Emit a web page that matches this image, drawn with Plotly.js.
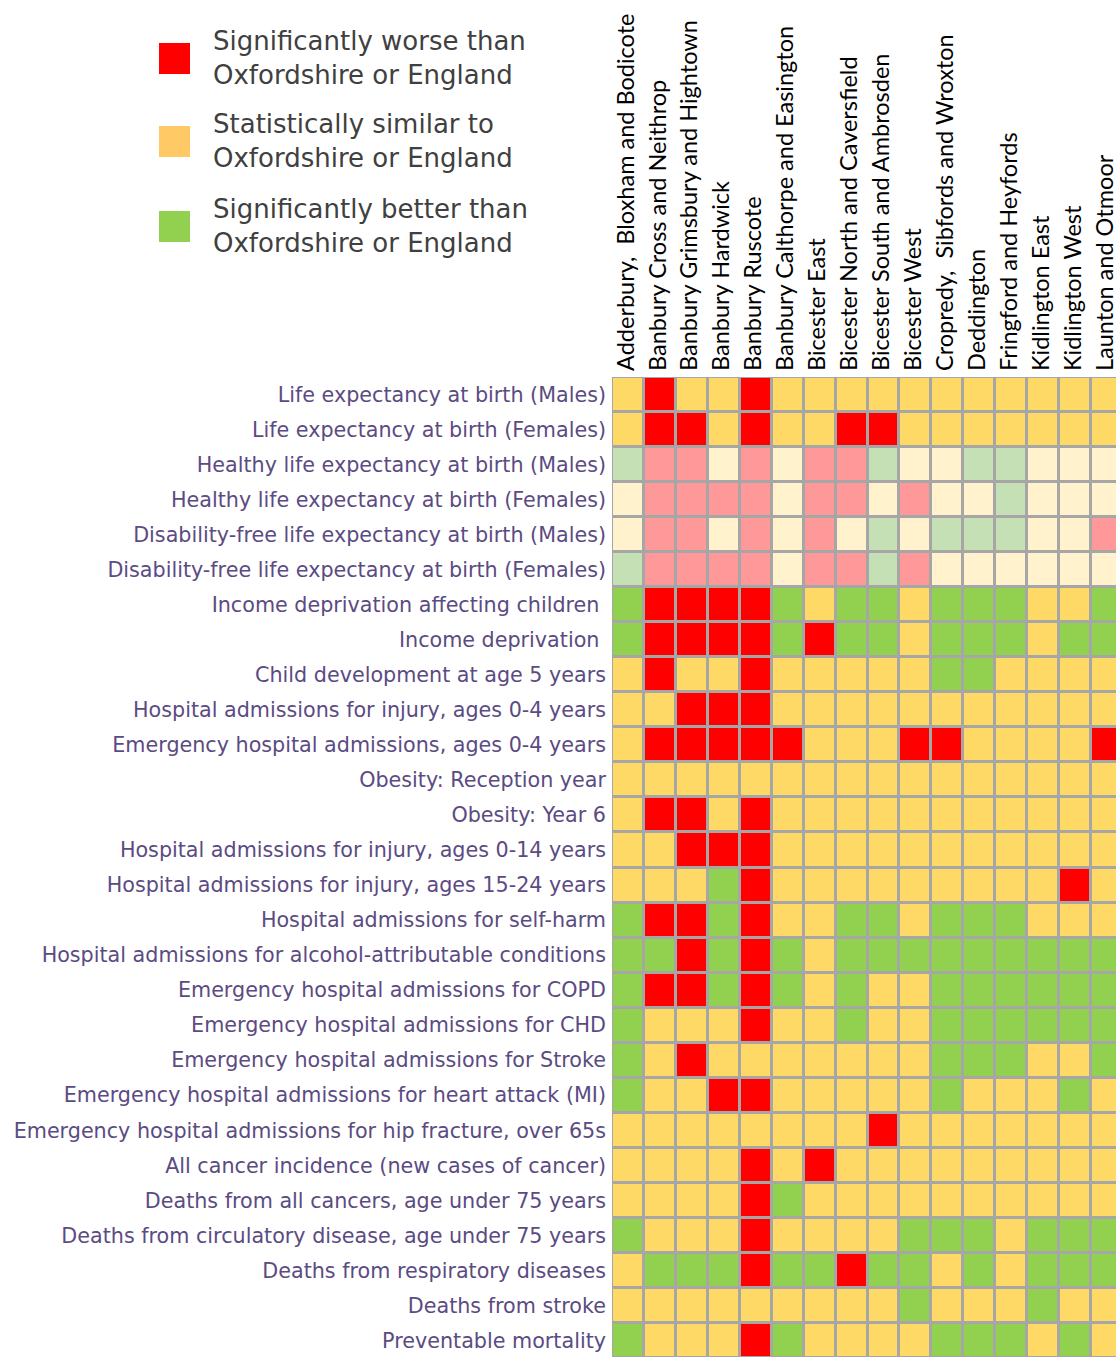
<!DOCTYPE html>
<html>
<head>
<meta charset="utf-8">
<script src="https://cdn.plot.ly/plotly-3.0.1.min.js"></script>
<style>
html, body { margin: 0; padding: 0; overflow: hidden; background: #ffffff; }
#chart { width: 1124px; height: 1358px; }
</style>
</head>
<body>
<div id="chart"></div>
<script>
// ---- Data ----
var wards = [
  "Adderbury,  Bloxham and Bodicote",
  "Banbury Cross and Neithrop",
  "Banbury Grimsbury and Hightown",
  "Banbury Hardwick",
  "Banbury Ruscote",
  "Banbury Calthorpe and Easington",
  "Bicester East",
  "Bicester North and Caversfield",
  "Bicester South and Ambrosden",
  "Bicester West",
  "Cropredy,  Sibfords and Wroxton",
  "Deddington",
  "Fringford and Heyfords",
  "Kidlington East",
  "Kidlington West",
  "Launton and Otmoor"
];

var indicators = [
  "Life expectancy at birth (Males)",
  "Life expectancy at birth (Females)",
  "Healthy life expectancy at birth (Males)",
  "Healthy life expectancy at birth (Females)",
  "Disability-free life expectancy at birth (Males)",
  "Disability-free life expectancy at birth (Females)",
  "Income deprivation affecting children\u00a0",
  "Income deprivation\u00a0",
  "Child development at age 5 years",
  "Hospital admissions for injury, ages 0-4 years",
  "Emergency hospital admissions, ages 0-4 years",
  "Obesity: Reception year",
  "Obesity: Year 6",
  "Hospital admissions for injury, ages 0-14 years",
  "Hospital admissions for injury, ages 15-24 years",
  "Hospital admissions for self-harm",
  "Hospital admissions for alcohol-attributable conditions",
  "Emergency hospital admissions for COPD",
  "Emergency hospital admissions for CHD",
  "Emergency hospital admissions for Stroke",
  "Emergency hospital admissions for heart attack (MI)",
  "Emergency hospital admissions for hip fracture, over 65s",
  "All cancer incidence (new cases of cancer)",
  "Deaths from all cancers, age under 75 years",
  "Deaths from circulatory disease, age under 75 years",
  "Deaths from respiratory diseases",
  "Deaths from stroke",
  "Preventable mortality"
];

// R = worse, Y = similar, G = better; lower-case = lighter shade (life expectancy measures)
var statusRows = [
  "YRYYRYYYYYYYYYYY",
  "YRRYRYYRRYYYYYYY",
  "grryryrrgyyggyyy",
  "yrrrryrryryygyyy",
  "yrryryrygygggyyr",
  "grrrryrrgryyyyyy",
  "GRRRRGYGGYGGGYYG",
  "GRRRRGRGGYGGGYGG",
  "YRYYRYYYYYGGYYYY",
  "YYRRRYYYYYYYYYYY",
  "YRRRRRYYYRRYYYYR",
  "YYYYYYYYYYYYYYYY",
  "YRRYRYYYYYYYYYYY",
  "YYRRRYYYYYYYYYYY",
  "YYYGRYYYYYYYYYRY",
  "GRRGRYYGGYGGGYYY",
  "GGRGRGYGGGGGGGGG",
  "GRRGRGYGYYGGGGGG",
  "GYYYRYYGYYGGGGGG",
  "GYRYYYYYYYGGGYYG",
  "GYYRRYYYYYGYYYGY",
  "YYYYYYYYRYYYYYYY",
  "YYYYRYRYYYYYYYYY",
  "YYYYRGYYYYYYYYYY",
  "GYYYRYYYYGGGYGGG",
  "YGGGRGGRGGYGYGGG",
  "YYYYYYYYYGYYYGYY",
  "GYYYRGYYYYGGGYGY"
];

var statusCodes = ["R", "Y", "G", "r", "y", "g"];
var statusColors = ["#FF0000", "#FED966", "#92D050", "#FF9999", "#FFF2CC", "#C5E0B4"];

var legendLabels = [
  "Significantly worse than<br>Oxfordshire or England",
  "Statistically similar to<br>Oxfordshire or England",
  "Significantly better than<br>Oxfordshire or England"
];
var legendColors = ["#FF0000", "#FFC966", "#92D050"];

// ---- Build ----
var z = statusRows.map(function (row) {
  return row.split("").map(function (c) { return statusCodes.indexOf(c); });
});
var n = statusColors.length;
var colorscale = [];
statusColors.forEach(function (c, i) {
  colorscale.push([i / n, c]);
  colorscale.push([(i + 1) / n, c]);
});

var W = 1124, H = 1358;
var ML = 612, MR = 1, MT = 377, MB = 0;
var PW = W - ML - MR, PH = H - MT - MB;
function px2x(px) { return (px - ML) / PW; }
function px2y(py) { return (H - MB - py) / PH; }

var trace = {
  type: "heatmap",
  x: wards,
  y: indicators,
  z: z,
  zmin: -0.5,
  zmax: n - 0.5,
  colorscale: colorscale,
  showscale: false,
  xgap: 3,
  ygap: 3,
  hoverinfo: "skip"
};

var shapes = [];
var annotations = [];
var legendTops = [43, 126, 211];
legendTops.forEach(function (top, i) {
  shapes.push({
    type: "rect", xref: "paper", yref: "paper",
    x0: px2x(159), x1: px2x(190), y0: px2y(top), y1: px2y(top + 31),
    fillcolor: legendColors[i], line: { width: 0 }
  });
  annotations.push({
    xref: "paper", yref: "paper",
    x: px2x(211), y: px2y(top + 15),
    xanchor: "left", yanchor: "middle", align: "left",
    showarrow: false,
    text: legendLabels[i],
    font: { family: "DejaVu Sans, sans-serif", size: 26, color: "#404040" }
  });
});

var layout = {
  width: W,
  height: H,
  margin: { l: ML, r: MR, t: MT, b: MB, pad: 0 },
  paper_bgcolor: "#FFFFFF",
  plot_bgcolor: "#A6A6A6",
  showlegend: false,
  xaxis: {
    side: "top",
    type: "category",
    tickangle: -90,
    ticks: "",
    ticklabelstandoff: 5,
    ticklabelshift: -2,
    showgrid: false,
    zeroline: false,
    showline: false,
    tickfont: { family: "Lato, sans-serif", size: 23.5, color: "#000000" },
    fixedrange: true
  },
  yaxis: {
    type: "category",
    autorange: "reversed",
    ticks: "",
    ticklabelstandoff: 5,
    showgrid: false,
    zeroline: false,
    showline: false,
    tickfont: { family: "DejaVu Sans, sans-serif", size: 20.7, color: "#5B4B82" },
    fixedrange: true
  },
  shapes: shapes,
  annotations: annotations
};

Plotly.newPlot("chart", [trace], layout, { displayModeBar: false, staticPlot: true });
</script>
</body>
</html>
